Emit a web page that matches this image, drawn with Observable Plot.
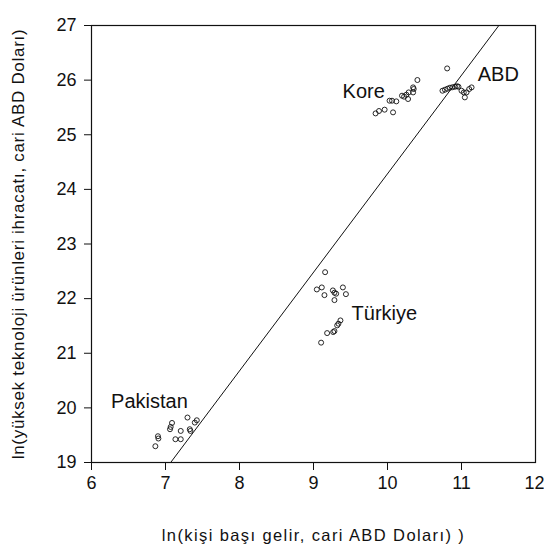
<!DOCTYPE html>
<html><head><meta charset="utf-8">
<script src="https://cdn.jsdelivr.net/npm/d3@7"></script>
<script src="https://cdn.jsdelivr.net/npm/@observablehq/plot@0.6"></script>
<style>
body{margin:0;background:#fff}
g[aria-label="x-axis label"] text{letter-spacing:1.4px}
g[aria-label="y-axis label"] text{letter-spacing:0.7px}
</style>
</head><body><div id="chart"></div>
<script>
// Data
const pakistanX = [7.297, 7.423, 7.396, 7.088, 7.070, 7.061, 7.206, 7.328, 7.337, 6.898, 6.904, 7.134, 7.206, 6.863];
const pakistanY = [19.823, 19.773, 19.731, 19.724, 19.651, 19.609, 19.578, 19.609, 19.578, 19.481, 19.439, 19.426, 19.426, 19.298];
const turkiyeX = [9.157, 9.045, 9.112, 9.148, 9.262, 9.283, 9.306, 9.283, 9.397, 9.438, 9.364, 9.337, 9.320, 9.283, 9.266, 9.184, 9.103];
const turkiyeY = [22.484, 22.168, 22.205, 22.064, 22.150, 22.108, 22.090, 21.973, 22.205, 22.082, 21.601, 21.541, 21.510, 21.406, 21.388, 21.369, 21.194];
const koreX = [9.839, 9.885, 9.961, 10.075, 10.028, 10.061, 10.119, 10.196, 10.224, 10.255, 10.278, 10.286, 10.346, 10.354, 10.346, 10.404];
const koreY = [25.391, 25.435, 25.459, 25.410, 25.623, 25.623, 25.611, 25.715, 25.697, 25.733, 25.654, 25.775, 25.775, 25.837, 25.867, 26.002];
const abdX = [10.806, 10.743, 10.776, 10.810, 10.844, 10.878, 10.912, 10.939, 10.959, 11.000, 11.031, 11.068, 11.104, 11.136, 11.045];
const abdY = [26.214, 25.806, 25.824, 25.843, 25.861, 25.870, 25.879, 25.888, 25.879, 25.806, 25.775, 25.775, 25.837, 25.867, 25.684];

const fitX = [7.07, 11.505];
const fitY = [19, 27];

const labelNames = ["Pakistan", "Türkiye", "Kore", "ABD"];
const labelX = [6.783, 9.957, 9.679, 11.497];
const labelY = [20.124, 21.724, 25.788, 26.095];

const xTicks = [6, 7, 8, 9, 10, 11];
const xTickLast = [12];
const yTicks = [19, 20, 21, 22, 23, 24, 25, 26, 27];

const xLabel = "ln(kişi başı gelir, cari ABD Doları) )";
const yLabel = "ln(yüksek teknoloji ürünleri ihracatı, cari ABD Doları)";

const points = [];
[[pakistanX, pakistanY], [turkiyeX, turkiyeY], [koreX, koreY], [abdX, abdY]].forEach(([xs, ys]) => {
  xs.forEach((x, i) => points.push({x, y: ys[i]}));
});
const fit = fitX.map((x, i) => ({x, y: fitY[i]}));
const labels = labelNames.map((name, i) => ({name, x: labelX[i], y: labelY[i]}));

const chart = Plot.plot({
  width: 544,
  height: 549,
  marginLeft: 91,
  marginRight: 9,
  marginTop: 25,
  marginBottom: 87,
  style: {fontFamily: "'Liberation Sans', Arial, sans-serif", background: "#fff", color: "#111"},
  x: {domain: [6, 12]},
  y: {domain: [19, 27]},
  marks: [
    Plot.frame({stroke: "#111", strokeWidth: 1.2}),
    Plot.axisX({ticks: xTicks, tickFormat: d3.format("d"), tickSize: 8, tickPadding: 6, fontSize: 18, label: null}),
    Plot.axisX({ticks: xTickLast, tickFormat: d3.format("d"), tickSize: 8, tickPadding: 6, fontSize: 18, label: null, textAnchor: "end", dx: 9}),
    Plot.axisX({ticks: [], tickSize: 0, fontSize: 16.5, label: xLabel, labelAnchor: "center", labelOffset: 78, labelArrow: "none"}),
    Plot.axisY({ticks: yTicks, tickFormat: d3.format("d"), tickSize: 7, tickPadding: 8, fontSize: 18, label: null}),
    Plot.axisY({ticks: [], tickSize: 0, fontSize: 17, label: yLabel, labelAnchor: "center", labelOffset: 80, labelArrow: "none"}),
    Plot.line(fit, {x: "x", y: "y", stroke: "#111", strokeWidth: 1}),
    Plot.dot(points, {x: "x", y: "y", r: 2.5, stroke: "#111", strokeWidth: 0.9, fill: "none"}),
    Plot.text(labels, {x: "x", y: "y", text: "name", fontSize: 20, fill: "#111"})
  ]
});
document.getElementById("chart").appendChild(chart);
</script>
</body></html>
